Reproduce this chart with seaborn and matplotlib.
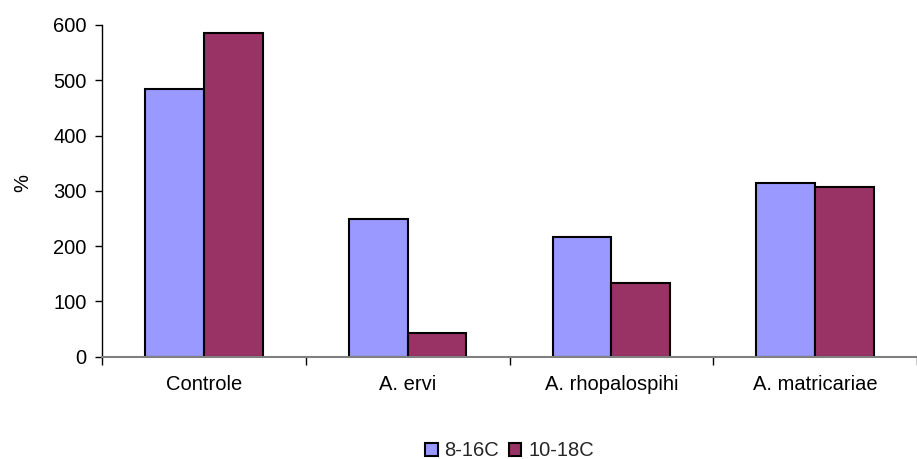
import matplotlib
matplotlib.use("Agg")
import matplotlib.pyplot as plt
import seaborn as sns
import pandas as pd

categories = ["Controle", "A. ervi", "A. rhopalospihi", "A. matricariae"]
series_names = ["8-16C", "10-18C"]
values_8_16 = [484, 249, 216, 314]
values_10_18 = [585, 43, 133, 307]
y_ticks = [0, 100, 200, 300, 400, 500, 600]

df = pd.DataFrame({
    "categoria": categories * 2,
    "serie": [series_names[0]] * len(categories) + [series_names[1]] * len(categories),
    "valor": values_8_16 + values_10_18,
})

FS = 14.5

sns.set_theme(style="white")
plt.rcParams["font.family"] = ["Liberation Sans", "DejaVu Sans"]
plt.rcParams["font.size"] = FS

fig = plt.figure(figsize=(9.17, 4.59), dpi=100)
ax = fig.add_axes([102 / 917, 1 - 356.7 / 459, 1 - 102 / 917, (356.7 - 25) / 459])

sns.barplot(
    data=df, x="categoria", y="valor", hue="serie",
    order=categories, hue_order=series_names,
    palette=["#9999FF", "#993366"], saturation=1, width=0.576, gap=0,
    edgecolor="black", linewidth=1.5, ax=ax, legend=True,
)

ax.set_ylim(0, 600)
ax.set_xlim(-0.5, 3.476)
ax.set_yticks(y_ticks)
ax.set_yticklabels([str(t) for t in y_ticks], fontsize=FS, color="black")
ax.tick_params(axis="y", direction="out", length=5, width=1, color="black", left=True, pad=6)

# category labels on major ticks (hidden marks), separators on minor ticks
ax.set_xticks(range(len(categories)))
ax.set_xticklabels(categories, fontsize=FS, color="black")
ax.tick_params(axis="x", which="major", length=0, pad=13)
ax.set_xticks([-0.5, 0.5, 1.5, 2.5, 3.5], minor=True)
ax.tick_params(axis="x", which="minor", direction="out", length=6, width=1, color="black", bottom=True)

ax.set_xlabel("")
ax.set_ylabel("%", fontsize=FS, color="black")
ax.yaxis.set_label_coords(-0.086, 0.525)

for side in ("top", "right"):
    ax.spines[side].set_visible(False)
ax.spines["left"].set_color("black")
ax.spines["left"].set_linewidth(1)
ax.spines["bottom"].set_color("#808080")
ax.spines["bottom"].set_linewidth(1.5)

handles, labels = ax.get_legend_handles_labels()
ax.get_legend().remove()
fig.legend(
    handles, labels, loc="center", bbox_to_anchor=(0.556, 1 - 451 / 459),
    ncol=2, frameon=False, fontsize=FS,
    handlelength=0.6, handleheight=0.6, handletextpad=0.35, columnspacing=0.5,
)

fig.savefig("out.png", dpi=100)
